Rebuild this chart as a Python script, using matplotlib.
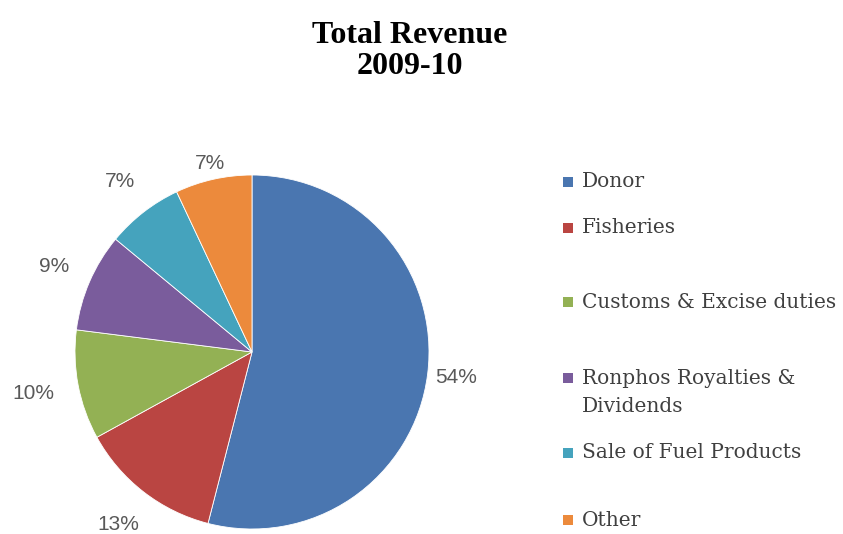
import matplotlib
matplotlib.use("Agg")
import matplotlib.pyplot as plt
from matplotlib.patches import Rectangle
import numpy as np

categories = ["Donor", "Fisheries", "Customs & Excise duties",
              "Ronphos Royalties &\nDividends", "Sale of Fuel Products", "Other"]
shares = [54, 13, 10, 9, 7, 7]
pct_labels = ["54%", "13%", "10%", "9%", "7%", "7%"]
colors = ["#4A76B0", "#BA4542", "#93B154", "#7A5C9C", "#45A3BD", "#EC8A3C"]

W, H = 843, 534
fig = plt.figure(figsize=(W / 100, H / 100), dpi=100)

cx, cy, r = 252, 352, 177
ax = fig.add_axes([(cx - r) / W, (H - cy - r) / H, 2 * r / W, 2 * r / H])
wedges, _ = ax.pie(shares, colors=colors, startangle=90, counterclock=False,
                   radius=1, wedgeprops=dict(edgecolor="white", linewidth=0.6))
ax.set_xlim(-1, 1)
ax.set_ylim(-1, 1)
ax.set_aspect("equal")
ax.axis("off")

label_dist = [1.16, 1.23, 1.26, 1.22, 1.22, 1.09]
for w, lab, d in zip(wedges, pct_labels, label_dist):
    ang = np.deg2rad((w.theta1 + w.theta2) / 2)
    ax.text(d * np.cos(ang), d * np.sin(ang), lab, ha="center", va="center",
            fontsize=15, color="#595959", family="Liberation Sans", clip_on=False)

fig.text(410 / W, 1 - 51 / H, "Total Revenue\n2009-10", ha="center", va="center",
         fontsize=23, fontweight="bold", family="Liberation Serif",
         linespacing=1.12, color="black")

legend_y = [182, 228, 302, 378, 453, 520]
for lab, col, y in zip(categories, colors, legend_y):
    first = lab.split("\n")
    fig.text(582 / W, 1 - y / H, first[0], ha="left", va="center",
             fontsize=14.5, family="DejaVu Serif", color="#404040")
    if len(first) > 1:
        fig.text(582 / W, 1 - (y + 29) / H, first[1], ha="left", va="center",
                 fontsize=14.5, family="DejaVu Serif", color="#404040")
    fig.add_artist(Rectangle((563 / W, 1 - (y + 5) / H), 10 / W, 10 / H,
                             transform=fig.transFigure, facecolor=col,
                             edgecolor="none"))

fig.savefig("out.png", dpi=100)
